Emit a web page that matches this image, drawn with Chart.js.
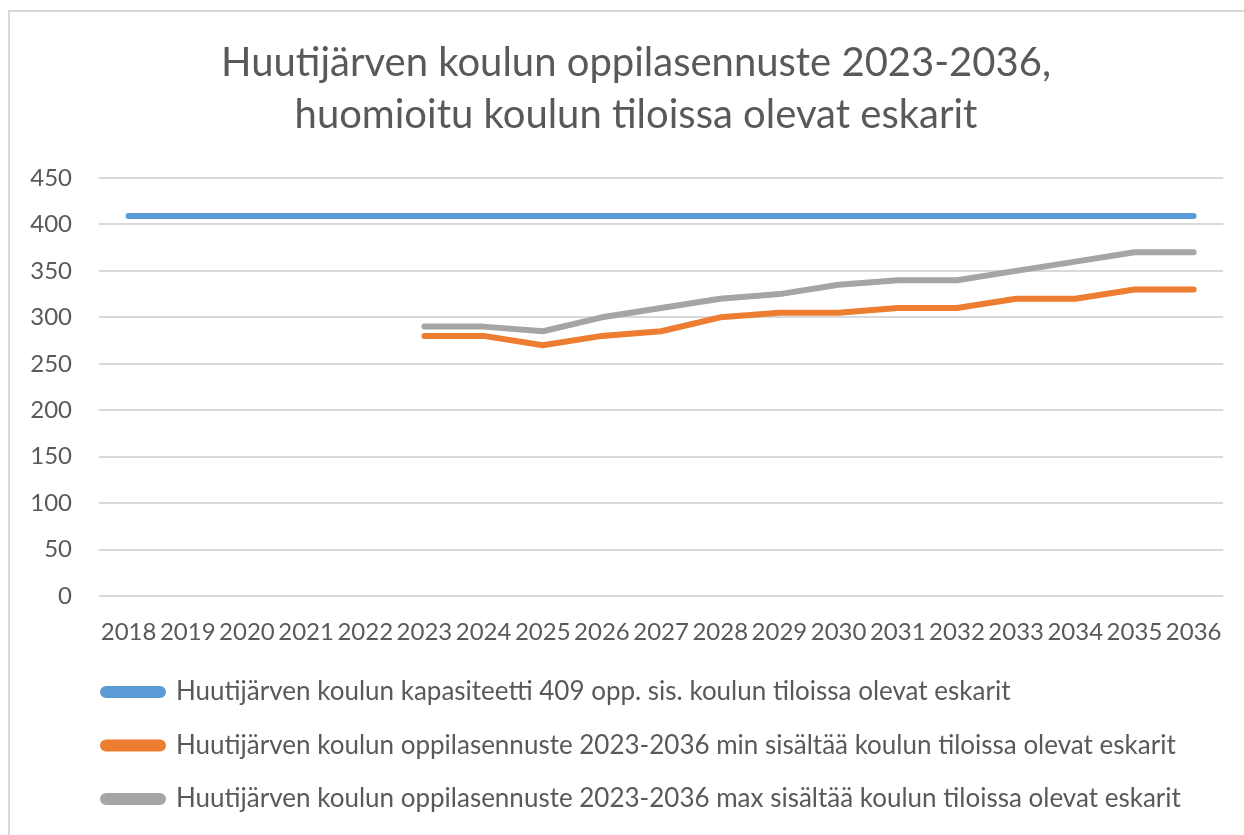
<!DOCTYPE html>
<html>
<head>
<meta charset="utf-8">
<script src="https://cdn.jsdelivr.net/npm/chart.js@4"></script>
<style>
  html, body { margin: 0; padding: 0; background: #ffffff; }
  #wrap { position: relative; width: 1244px; height: 835px; overflow: hidden; }
  #frame { position: absolute; left: 8px; top: 10px; width: 1300px; height: 900px;
           border-top: 2px solid #d9d9d9; border-left: 2px solid #d9d9d9; box-sizing: border-box; }
  canvas { position: absolute; left: 0; top: 0; }
</style>
</head>
<body>
<div id="wrap">
  <div id="frame"></div>
  <canvas id="c" width="1244" height="835"></canvas>
</div>
<script>
const years = ['2018','2019','2020','2021','2022','2023','2024','2025','2026','2027','2028','2029','2030','2031','2032','2033','2034','2035','2036'];
const capacity = [409,409,409,409,409,409,409,409,409,409,409,409,409,409,409,409,409,409,409];
const forecastMin = [null,null,null,null,null,280,280,270,280,285,300,305,305,310,310,320,320,330,330];
const forecastMax = [null,null,null,null,null,290,290,285,300,310,320,325,335,340,340,350,360,370,370];
const titleLines = ['Huutijärven koulun oppilasennuste 2023-2036,', 'huomioitu koulun tiloissa olevat eskarit'];
const seriesNames = [
  'Huutijärven koulun kapasiteetti 409 opp. sis. koulun tiloissa olevat eskarit',
  'Huutijärven koulun oppilasennuste 2023-2036 min sisältää koulun tiloissa olevat eskarit',
  'Huutijärven koulun oppilasennuste 2023-2036 max sisältää koulun tiloissa olevat eskarit'
];
const colors = ['#5b9bd5', '#ed7d31', '#a5a5a5'];

const FONT = 'Lato, "Open Sans", sans-serif';
const TXT = '#595959';

function ds(label, data, color) {
  return {
    label, data,
    borderColor: color, backgroundColor: color,
    borderWidth: 6, borderCapStyle: 'round', borderJoinStyle: 'round',
    pointRadius: 0, pointHoverRadius: 0, tension: 0, spanGaps: false
  };
}

// nudge legend and title blocks horizontally to match the reference layout
const shiftBlocks = {
  id: 'shiftBlocks',
  afterLayout(chart) {
    const l = chart.legend;
    if (l) { l.left += 55.5; l.right += 55.5; }
    const t = chart.titleBlock;
    if (t) { t.left += 14; t.right += 14; }
  }
};

new Chart(document.getElementById('c'), {
  type: 'line',
  data: {
    labels: years,
    datasets: [
      ds(seriesNames[0], capacity, colors[0]),
      ds(seriesNames[1], forecastMin, colors[1]),
      ds(seriesNames[2], forecastMax, colors[2])
    ]
  },
  plugins: [shiftBlocks],
  options: {
    responsive: false,
    animation: false,
    layout: { padding: { left: 20, right: 20, top: 10, bottom: 13 } },
    plugins: {
      title: {
        display: true, text: titleLines, color: TXT,
        font: { family: FONT, size: 40, weight: 'normal', lineHeight: 1.3 },
        padding: { top: 27, bottom: 37 }
      },
      legend: {
        display: true, position: 'bottom', align: 'start',
        labels: {
          color: TXT, font: { family: FONT, size: 26 },
          boxWidth: 60, boxHeight: 6, padding: 27.5,
          useBorderRadius: true, borderRadius: 3
        }
      },
      tooltip: { enabled: false }
    },
    scales: {
      x: {
        offset: true,
        afterFit: (s) => { s.height = 55.5; },
        grid: { display: false, drawTicks: false },
        border: { display: false },
        ticks: { color: TXT, font: { family: FONT, size: 24 }, padding: 22, maxRotation: 0, autoSkip: false }
      },
      y: {
        min: 0, max: 450,
        afterFit: (s) => { s.width = 79; },
        grid: { color: '#d9d9d9', lineWidth: 2, drawTicks: false },
        border: { display: false },
        ticks: { color: TXT, font: { family: FONT, size: 24 }, padding: 27, stepSize: 50 }
      }
    }
  }
});
</script>
</body>
</html>
